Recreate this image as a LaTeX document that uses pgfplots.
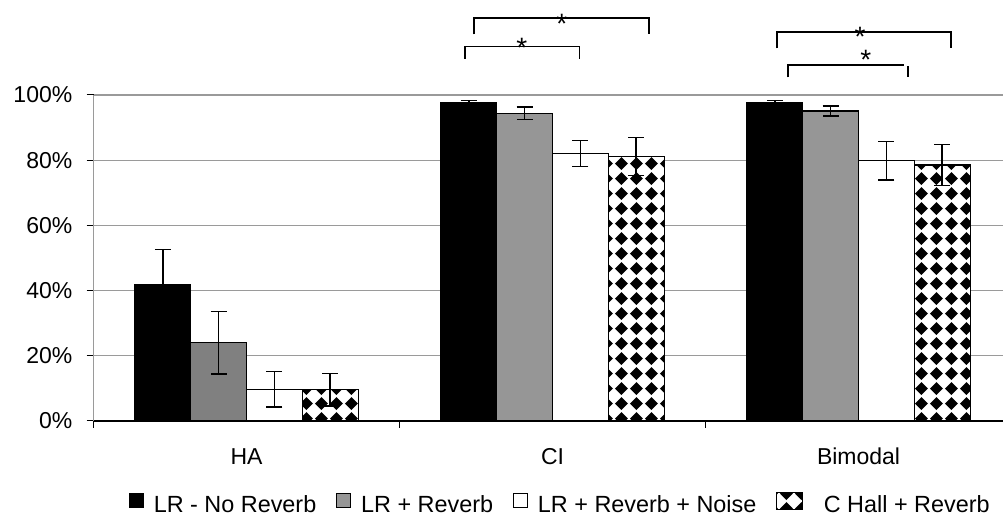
\documentclass[border=0pt]{standalone}
\usepackage{fontspec}
\setmainfont{Liberation Sans}
\usepackage{pgfplots}
\usepackage{pgfplotstable}
\pgfplotsset{compat=1.18}
\usetikzlibrary{patterns}
\pgfdeclarepatternformonly{diamondgrid}{\pgfpointorigin}{\pgfqpoint{15bp}{15bp}}{\pgfqpoint{15bp}{15bp}}{%
  \pgfpathmoveto{\pgfqpoint{1bp}{7.5bp}}%
  \pgfpathlineto{\pgfqpoint{7.5bp}{1bp}}%
  \pgfpathlineto{\pgfqpoint{14bp}{7.5bp}}%
  \pgfpathlineto{\pgfqpoint{7.5bp}{14bp}}%
  \pgfpathclose
  \pgfusepath{fill}%
}
\definecolor{gridgray}{HTML}{9A9A9A}
\definecolor{grayA}{HTML}{808080}
\definecolor{grayB}{HTML}{969696}

\pgfplotsset{
  sqlegend/.style={legend image code/.code={\draw[##1, line width=0.8bp] (0bp,-2bp) rectangle (14bp,12bp);}},
  halllegend/.style={legend image code/.code={%
    \path[fill=white, draw=none] (0bp,-4bp) rectangle (26bp,13bp);
    \path[pattern=diamondgrid, pattern color=black, draw=none] (0bp,-4bp) rectangle (26bp,13bp);
    \path[draw=black, fill=none, line width=0.8bp] (0bp,-4bp) rectangle (26bp,13bp);
    \path[draw=none, fill=none] (37bp,0bp) -- (37bp,1bp);}},
  myerr/.style={error bars/y dir=both, error bars/y explicit,
    error bars/error bar style={black, line width=1.6bp},
    error bars/error mark options={rotate=90, black, mark size=8bp, line width=1.6bp}},
}

% x: 0 = HA, 1 = CI, 2 = Bimodal
\pgfplotstableread{
x y e
0 41.8 10.8
1 97.6 0.7
2 97.6 0.7
}\tblnorev
\pgfplotstableread{
x y e
0 24.0 9.6
}\tblrevHA
\pgfplotstableread{
x y e
1 94.4 1.9
2 95.1 1.5
}\tblrev
\pgfplotstableread{
x y e
0 9.7 5.5
1 82.1 4.0
2 79.8 5.9
}\tblnoise
\pgfplotstableread{
x y e
0 9.6 5.0
1 81.1 5.8
2 78.5 6.3
}\tblhall

\begin{document}
\fontsize{23bp}{27bp}\selectfont
\begin{tikzpicture}
\begin{axis}[
  scale only axis, width=909.5bp, height=326bp,
  xmin=-0.5, xmax=2.472, ymin=0, ymax=100,
  enlargelimits=false,
  clip=false,
  axis x line*=bottom, axis y line*=left,
  ybar, bar width=0.1824,
  ytick={0,20,40,60,80,100},
  yticklabels={0\%,20\%,40\%,60\%,80\%,100\%},
  ymajorgrids, major grid style={gridgray, line width=1.2bp},
  xtick={0,1,2}, xticklabels={HA,CI,Bimodal},
  minor xtick={-0.5,0.5,1.5,2.5},
  major x tick style={draw=none},
  tick align=outside, major tick length=7bp, minor tick length=7bp,
  tick style={black, line width=1bp},
  x axis line style={black, line width=1.2bp},
  y axis line style={gridgray, line width=1.2bp},
  yticklabel style={inner sep=0pt, xshift=-14bp},
  xticklabel style={inner sep=0pt, yshift=-20bp},
  legend columns=4,
  legend style={at={(0.039,-0.2914)}, anchor=south west, draw=none, fill=none,
    inner sep=0pt, outer sep=0pt, nodes={inner sep=0pt},
    font=\fontsize{23.4bp}{28bp}\selectfont,
    /tikz/every odd column/.append style={column sep=10bp},
    /tikz/every even column/.append style={column sep=20bp}},
]
\addplot[fill=black, draw=black, line width=1.2bp, bar shift=-0.2736, sqlegend, myerr]
  table[x=x, y=y, y error=e]{\tblnorev};
\addlegendentry{LR - No Reverb}
\addplot[fill=grayA, draw=black, line width=1.2bp, bar shift=-0.0912, forget plot, myerr]
  table[x=x, y=y, y error=e]{\tblrevHA};
\addplot[fill=grayB, draw=black, line width=1.2bp, bar shift=-0.0912, sqlegend, myerr]
  table[x=x, y=y, y error=e]{\tblrev};
\addlegendentry{LR + Reverb}
\addplot[fill=white, draw=black, line width=1.2bp, bar shift=0.0912, sqlegend, myerr]
  table[x=x, y=y, y error=e]{\tblnoise};
\addlegendentry{LR + Reverb + Noise}
% white background of the patterned bars
\addplot[fill=white, draw=none, bar shift=0.2736, forget plot]
  table[x=x, y=y]{\tblhall};
\addplot[pattern=diamondgrid, draw=black, line width=1.2bp, bar shift=0.2736, halllegend, myerr]
  table[x=x, y=y, y error=e]{\tblhall};
\addlegendentry{C Hall + Reverb}

% significance brackets
\draw[line width=1.8bp] (axis cs:0.744,118.6) -- (axis cs:0.744,123.7) -- (axis cs:1.316,123.7) -- (axis cs:1.316,118.6);
\draw[line width=1.8bp] (axis cs:0.714,111.1) -- (axis cs:0.714,114.9) -- (axis cs:1.088,114.9) -- (axis cs:1.088,111.1);
\draw[line width=1.8bp] (axis cs:1.733,114.3) -- (axis cs:1.733,119.2) -- (axis cs:2.302,119.2) -- (axis cs:2.302,114.3);
\draw[line width=1.8bp] (axis cs:1.769,105.4) -- (axis cs:1.769,109.1) -- (axis cs:2.149,109.1);
\draw[line width=1.8bp] (axis cs:2.161,108.8) -- (axis cs:2.161,105.4);
\node[anchor=base, inner sep=0pt, font=\fontsize{28bp}{30bp}\selectfont] at (axis cs:1.030,119.0) {*};
\node[anchor=base, inner sep=0pt, font=\fontsize{28bp}{30bp}\selectfont] at (axis cs:0.900,111.4) {*};
\node[anchor=base, inner sep=0pt, font=\fontsize{28bp}{30bp}\selectfont] at (axis cs:2.005,115.0) {*};
\node[anchor=base, inner sep=0pt, font=\fontsize{28bp}{30bp}\selectfont] at (axis cs:2.024,107.9) {*};

\coordinate (bbBL) at (axis cs:-0.8056,-29.14);
\coordinate (bbTR) at (axis cs:2.472,129.14);
\end{axis}
\pgfresetboundingbox
\useasboundingbox (bbBL) rectangle (bbTR);
\end{tikzpicture}
\end{document}
